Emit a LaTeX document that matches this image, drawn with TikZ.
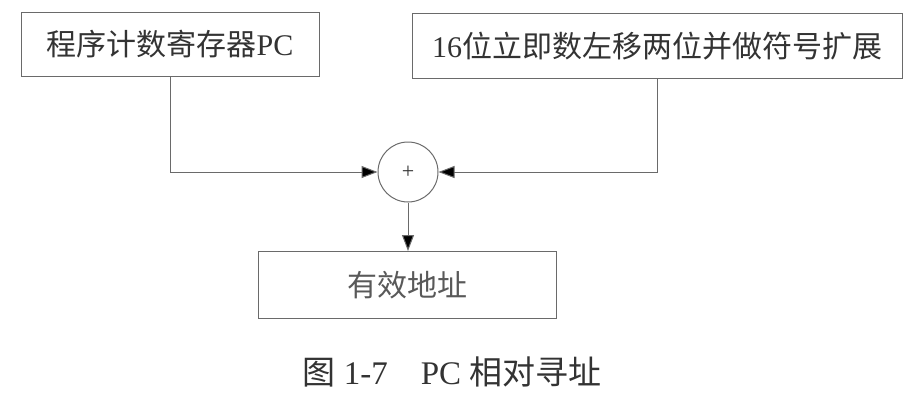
\documentclass[tikz,border=0pt]{standalone}
\usepackage{fontspec}
\setmainfont{Liberation Serif}
\newfontfamily\cjk{Noto Sans CJK SC}
\usetikzlibrary{arrows.meta}
\definecolor{linegray}{HTML}{6A6A6A}
\definecolor{textgray}{HTML}{333333}
\tikzset{
  box/.style={draw=linegray, line width=1pt, rectangle, inner sep=0pt, text=textgray, font=\fontsize{30}{33}\selectfont},
  conn/.style={draw=linegray, line width=1pt, -{Triangle[length=16pt,width=12pt,fill=black]}},
}
\begin{document}
\begin{tikzpicture}[x=1pt,y=-1pt]
\useasboundingbox (0,0) rectangle (923,402);
\node[box, minimum width=298pt, minimum height=64pt] (pc) at (170,44) {{\cjk 程序计数寄存器}PC};
\node[box, minimum width=490pt, minimum height=65pt] (imm) at (657,46) {16{\cjk 位立即数左移两位并做符号扩展}};
\node[draw=linegray, line width=1pt, circle, minimum size=60pt, inner sep=0pt, text=textgray, font=\fontsize{22}{24}\selectfont] (sum) at (408,172) {+};
\node[box, minimum width=298pt, minimum height=67pt, text=black!65] (ea) at (407,285) {\cjk 有效地址};
\node[text=textgray, font=\fontsize{33}{36}\selectfont, anchor=center] (cap) at (452,372) {{\cjk 图} 1-7\hspace{1em}PC {\cjk 相对寻址}};
\draw[conn] (pc.south) |- (sum.west);
\draw[conn] (imm.south) |- (sum.east);
\draw[conn] (sum.south) -- (sum.south |- ea.north);
\end{tikzpicture}
\end{document}
